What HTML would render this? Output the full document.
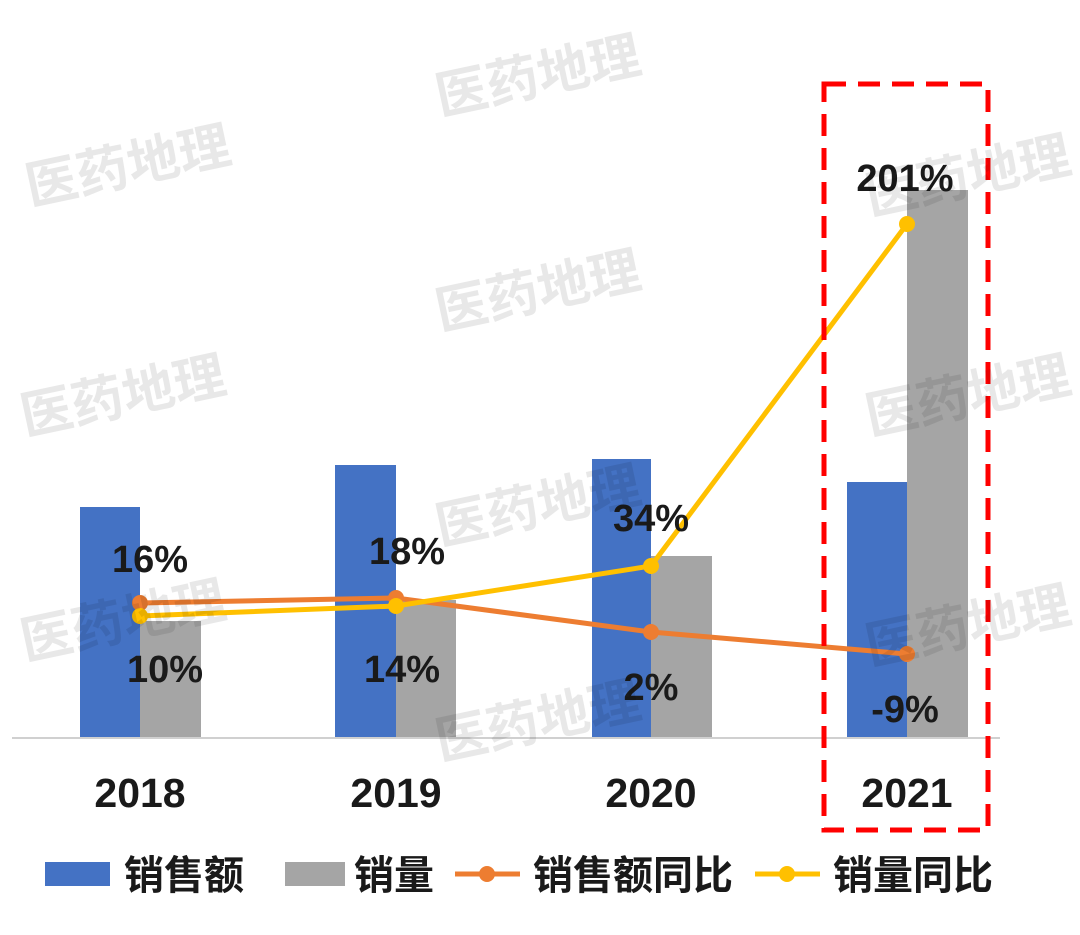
<!DOCTYPE html>
<html><head><meta charset="utf-8"><style>
body{margin:0;background:#fff;}
svg{display:block;}
text{font-family:"Liberation Sans","Noto Sans CJK SC",sans-serif;font-weight:bold;}
</style></head><body>
<svg width="1080" height="935" viewBox="0 0 1080 935" xmlns="http://www.w3.org/2000/svg">
<rect width="1080" height="935" fill="#fff"/>
<g fill="#4472C4">
<rect x="80" y="507" width="60" height="231"/>
<rect x="335" y="465" width="61" height="273"/>
<rect x="592" y="459" width="59" height="279"/>
<rect x="847" y="482" width="60" height="256"/>
</g>
<g fill="#A5A5A5">
<rect x="140" y="621" width="61" height="117"/>
<rect x="396" y="600" width="60" height="138"/>
<rect x="651" y="556" width="61" height="182"/>
<rect x="907" y="190" width="61" height="548"/>
</g>
<line x1="12" y1="738" x2="1000" y2="738" stroke="#d0d0d0" stroke-width="2"/>
<polyline points="140,603 396,598 651,632 907,654" fill="none" stroke="#ED7D31" stroke-width="5"/>
<g fill="#ED7D31"><circle cx="140" cy="603" r="8"/><circle cx="396" cy="598" r="8"/><circle cx="651" cy="632" r="8"/><circle cx="907" cy="654" r="8"/></g>
<polyline points="140,616 396,606 651,566 907,224" fill="none" stroke="#FFC000" stroke-width="5"/>
<g fill="#FFC000"><circle cx="140" cy="616" r="8"/><circle cx="396" cy="606" r="8"/><circle cx="651" cy="566" r="8"/><circle cx="907" cy="224" r="8"/></g>
<g font-size="38" fill="#1a1a1a" text-anchor="middle">
<text x="150" y="572">16%</text>
<text x="165" y="682">10%</text>
<text x="407" y="564">18%</text>
<text x="402" y="682">14%</text>
<text x="651" y="531">34%</text>
<text x="651" y="700">2%</text>
<text x="905" y="191">201%</text>
<text x="905" y="722">-9%</text>
</g>
<g font-size="41" fill="#1a1a1a" text-anchor="middle">
<text x="140" y="807">2018</text>
<text x="396" y="807">2019</text>
<text x="651" y="807">2020</text>
<text x="907" y="807">2021</text>
</g>
<rect x="824" y="84" width="164" height="746" fill="none" stroke="#FF0000" stroke-width="5" stroke-dasharray="22,12"/>
<g font-size="52" fill="#000" fill-opacity="0.09" font-family="Noto Sans CJK SC" font-weight="bold">
<text x="30" y="205" transform="rotate(-12 30 205)">医药地理</text>
<text x="440" y="115" transform="rotate(-12 440 115)">医药地理</text>
<text x="870" y="215" transform="rotate(-12 870 215)">医药地理</text>
<text x="25" y="435" transform="rotate(-12 25 435)">医药地理</text>
<text x="440" y="330" transform="rotate(-12 440 330)">医药地理</text>
<text x="870" y="435" transform="rotate(-12 870 435)">医药地理</text>
<text x="25" y="660" transform="rotate(-12 25 660)">医药地理</text>
<text x="440" y="545" transform="rotate(-12 440 545)">医药地理</text>
<text x="870" y="665" transform="rotate(-12 870 665)">医药地理</text>
<text x="440" y="760" transform="rotate(-12 440 760)">医药地理</text>
</g>
<rect x="45" y="862" width="65" height="24" fill="#4472C4"/>
<rect x="285" y="862" width="60" height="24" fill="#A5A5A5"/>
<line x1="455" y1="874" x2="520" y2="874" stroke="#ED7D31" stroke-width="5"/><circle cx="487" cy="874" r="8" fill="#ED7D31"/>
<line x1="755" y1="874" x2="820" y2="874" stroke="#FFC000" stroke-width="5"/><circle cx="787" cy="874" r="8" fill="#FFC000"/>
<g font-size="40" fill="#1a1a1a">
<text x="124" y="889">销售额</text>
<text x="354" y="889">销量</text>
<text x="533" y="889">销售额同比</text>
<text x="833" y="889">销量同比</text>
</g>
</svg>
</body></html>
